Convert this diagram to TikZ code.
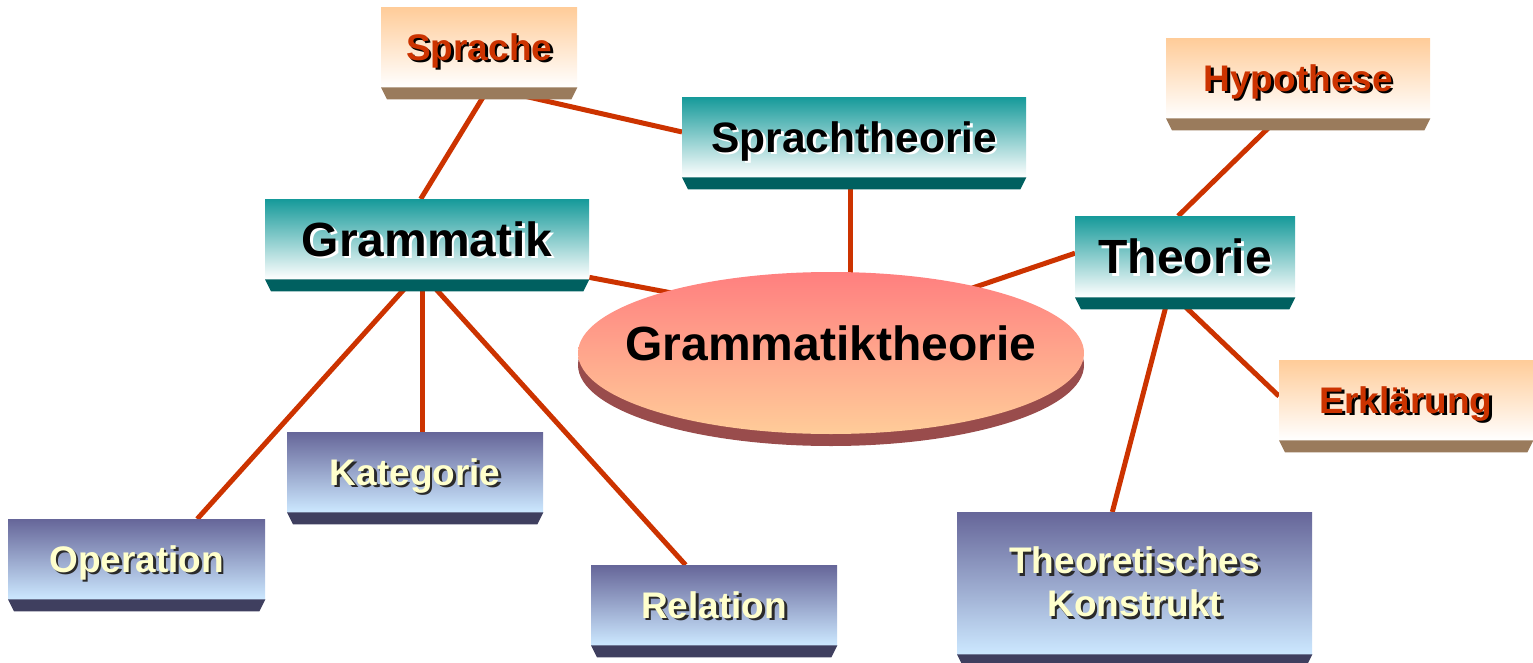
\documentclass[tikz,border=0pt]{standalone}
\usepackage{fontspec}
\setmainfont{Liberation Sans}
\usetikzlibrary{shapes.geometric,calc}
\pgfdeclarelayer{bg}
\pgfdeclarelayer{mid}
\pgfsetlayers{bg,mid,main}
\definecolor{lnred}{HTML}{CC3300}
\definecolor{peach}{HTML}{FFCC99}
\definecolor{brownbev}{HTML}{9A7B5C}
\definecolor{tealtop}{HTML}{169A9A}
\definecolor{tealbev}{HTML}{006060}
\definecolor{purtop}{HTML}{666699}
\definecolor{purbot}{HTML}{CCE8FF}
\definecolor{purbev}{HTML}{3F3F5F}
\definecolor{elltop}{HTML}{FF7F7F}
\definecolor{ellbot}{HTML}{FFCC99}
\definecolor{ellside}{HTML}{994C4C}
\definecolor{txtyel}{HTML}{FFFFCC}
\definecolor{txtred}{HTML}{CC3300}
\definecolor{shdark}{HTML}{2A2A2A}
\newcommand\shtxt[3]{\makebox[0pt][l]{\kern2.5pt\raisebox{-2.5pt}{\color{#2}#3}}{\color{#1}#3}}
\newcommand\bevelbox[2]{\fill[#2] (#1.south west) -- (#1.south east) -- ($(#1.south east)+(-6,12)$) -- ($(#1.south west)+(6,12)$) -- cycle;}
\tikzset{
  box/.style={rectangle, inner sep=0pt, anchor=north west},
  fsmall/.style={font=\bfseries\fontsize{37}{43}\selectfont},
  capsmall/.style={text height=26.5pt, text depth=0pt},
  fbig/.style={font=\bfseries\fontsize{48}{52}\selectfont, text height=34.4pt, text depth=0pt},
  fmid/.style={font=\bfseries\fontsize{42.5}{48}\selectfont, text height=30.5pt, text depth=0pt},
  obox/.style={box, fsmall, capsmall, top color=peach, bottom color=white},
  tbox/.style={box, top color=tealtop, bottom color=white},
  pbox/.style={box, fsmall, top color=purtop, bottom color=purbot},
  conn/.style={line width=5pt, lnred},
}
\begin{document}
\begin{tikzpicture}[x=1pt,y=-1pt]
\useasboundingbox (0,0) rectangle (1533,663);
% nodes
\node[obox, minimum width=196pt, minimum height=80pt] (sprache) at (381,7) {\shtxt{txtred}{black}{Sprache}};
\node[obox, minimum width=264pt, minimum height=80pt] (hypo) at (1166,38) {\shtxt{txtred}{black}{Hypothese}};
\node[obox, minimum width=254pt, minimum height=80pt] (erkl) at (1279,360) {\shtxt{txtred}{black}{Erklärung}};
\node[tbox, fmid, minimum width=344pt, minimum height=80pt] (st) at (682,97) {\shtxt{black}{white}{Sprachtheorie}};
\node[tbox, fbig, minimum width=324pt, minimum height=80pt] (gram) at (265,199) {\shtxt{black}{white}{Grammatik}};
\node[tbox, fbig, minimum width=220pt, minimum height=81pt] (theorie) at (1075,216) {\shtxt{black}{white}{Theorie}};
\node[pbox, capsmall, minimum width=256pt, minimum height=80pt] (kat) at (287,432) {\shtxt{txtyel}{shdark}{Kategorie}};
\node[pbox, capsmall, minimum width=257pt, minimum height=80pt] (op) at (8,519) {\shtxt{txtyel}{shdark}{Operation}};
\node[pbox, capsmall, minimum width=246pt, minimum height=80pt] (rel) at (591,565) {\shtxt{txtyel}{shdark}{Relation}};
\node[pbox, align=center, minimum width=355pt, minimum height=142pt] (kon) at (957,512) {\shtxt{txtyel}{shdark}{Theoretisches}\\\shtxt{txtyel}{shdark}{Konstrukt}};
\node[ellipse, inner sep=0pt, minimum width=506pt, minimum height=162pt, top color=elltop, bottom color=ellbot] (gt) at (831,353) {};
\node[fbig] (gttext) at ($(gt.center)+(0,-10)$) {Grammatiktheorie};
% bevels
\bevelbox{sprache}{brownbev}
\bevelbox{hypo}{brownbev}
\bevelbox{erkl}{brownbev}
\bevelbox{st}{tealbev}
\bevelbox{gram}{tealbev}
\bevelbox{theorie}{tealbev}
\bevelbox{kat}{purbev}
\bevelbox{op}{purbev}
\bevelbox{rel}{purbev}
\bevelbox{kon}{purbev}
\begin{pgfonlayer}{mid}
\fill[ellside] ($(gt.center)+(0,12)$) ellipse [x radius=253pt, y radius=81pt];
\end{pgfonlayer}
\begin{pgfonlayer}{bg}
\draw[conn] ($(sprache.south west)!0.55!(sprache.south east)$) -- ($(gram.north west)!0.48!(gram.north east)$);
\draw[conn] ($(sprache.south west)!0.536!(sprache.south east)$) -- ($(st.north west)!0.435!(st.south west)$);
\coordinate (stp) at ($(st.south west)!0.488!(st.south east)$);
\draw[conn] (stp) -- (stp |- gt.center);
\draw[conn] ($(gram.north east)!0.975!(gram.south east)$) -- ($(gt.center)+(-101,-49)$);
\draw[conn] ($(theorie.north west)!0.457!(theorie.south west)$) -- ($(gt.center)+(109,-54)$);
\draw[conn] ($(theorie.north west)!0.468!(theorie.north east)$) -- ($(hypo.south west)!0.424!(hypo.south east)$);
\draw[conn] ($(theorie.south west)!0.456!(theorie.south east)$) -- ($(erkl.north west)!0.45!(erkl.south west)$);
\draw[conn] ($(theorie.south west)!0.423!(theorie.south east)$) -- ($(kon.north west)!0.437!(kon.north east)$);
\draw[conn] ($(gram.south west)!0.456!(gram.south east)$) -- ($(op.north west)!0.735!(op.north east)$);
\coordinate (gk) at ($(gram.south west)!0.485!(gram.south east)$);
\draw[conn] (gk) -- (gk |- kat.north);
\draw[conn] ($(gram.south west)!0.5!(gram.south east)$) -- ($(rel.north west)!0.384!(rel.north east)$);
\end{pgfonlayer}
\end{tikzpicture}
\end{document}
